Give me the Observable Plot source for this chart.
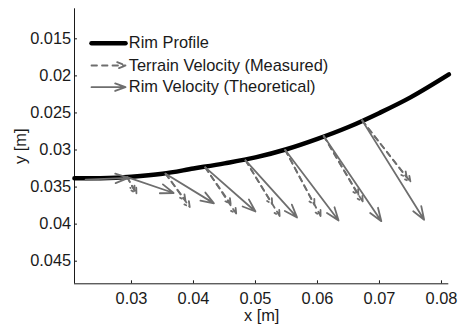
<!DOCTYPE html>
<html><head><meta charset="utf-8">
<script src="https://cdn.jsdelivr.net/npm/d3@7"></script>
<script src="https://cdn.jsdelivr.net/npm/@observablehq/plot@0.6"></script>
<style>html,body{margin:0;padding:0;background:#fff}svg{display:block}</style>
</head><body><div id="chart"></div>
<script>
// Rim profile
const rimX = [0.0208, 0.025, 0.030, 0.035, 0.040, 0.045, 0.050, 0.055, 0.060, 0.065, 0.070, 0.075, 0.0812];
const rimY = [0.0338, 0.0338, 0.0336, 0.0332, 0.0325, 0.0318, 0.0310, 0.0299, 0.0285, 0.0269, 0.0250, 0.0229, 0.0198];

// Arrow tails on the rim
const tailX = [0.0226, 0.0293, 0.0355, 0.0419, 0.0484, 0.0548, 0.0610, 0.0672];
const tailY = [0.0340, 0.03365, 0.0332, 0.03235, 0.0314, 0.0300, 0.0281, 0.0260];

// Rim velocity (theoretical) arrow heads
const theoHeadX = [0.0295, 0.0368, 0.0433, 0.0500, 0.0567, 0.0634, 0.0703, 0.0772];
const theoHeadY = [0.03375, 0.0358, 0.0372, 0.0383, 0.0391, 0.0395, 0.0396, 0.0394];

// Terrain velocity (measured) arrows: tail index and head
const measTail  = [1, 1, 2, 2, 3, 3, 4, 4, 5, 5, 6, 6, 7, 7];
const measHeadX = [0.0308, 0.0305, 0.0387, 0.0394, 0.0460, 0.0469, 0.0527, 0.0539, 0.0595, 0.0605, 0.0666, 0.0673, 0.0750, 0.0744];
const measHeadY = [0.0359, 0.0355, 0.0368, 0.0377, 0.0373, 0.0386, 0.0373, 0.0389, 0.0374, 0.0389, 0.0361, 0.0370, 0.0343, 0.0337];

const xTicks = [0.03, 0.04, 0.05, 0.06, 0.07, 0.08];
const xTickLabels = ["0.03", "0.04", "0.05", "0.06", "0.07", "0.08"];
const yTicks = [0.015, 0.02, 0.025, 0.03, 0.035, 0.04, 0.045];
const yTickLabels = ["0.015", "0.02", "0.025", "0.03", "0.035", "0.04", "0.045"];
const legendLabels = ["Rim Profile", "Terrain Velocity (Measured)", "Rim Velocity (Theoretical)"];
const xLabel = "x [m]";
const yLabel = "y [m]";

const rim = rimX.map((x, i) => ({x, y: rimY[i]}));
const theo = tailX.map((x, i) => ({x1: x, y1: tailY[i], x2: theoHeadX[i], y2: theoHeadY[i]}));
const meas = measTail.map((t, i) => ({x1: tailX[t], y1: tailY[t], x2: measHeadX[i], y2: measHeadY[i]}));

const xFmt = new Map(xTicks.map((t, i) => [t, xTickLabels[i]]));
const yFmt = new Map(yTicks.map((t, i) => [t, yTickLabels[i]]));

const gray = "#6e6e6e";
const ink = "#1a1a1a";
const font = "'Liberation Sans', Arial, Helvetica, sans-serif";
const fs = 16.4;

const lineShape = {draw(ctx, l) { ctx.moveTo(0, 0); ctx.lineTo(0, -l); }};
const arrowShape = (wing, ang) => ({draw(ctx, l) {
  const a = ang * Math.PI / 180;
  ctx.moveTo(0, 0); ctx.lineTo(0, -l);
  ctx.moveTo(-wing * Math.sin(a), -l + wing * Math.cos(a));
  ctx.lineTo(0, -l);
  ctx.lineTo(wing * Math.sin(a), -l + wing * Math.cos(a));
}});

const legX = 17, legText = 54.3, legRows = [34.4, 56.7, 78.4];

const chart = Plot.plot({
  width: 458,
  height: 324,
  marginLeft: 74,
  marginRight: 9.7,
  marginTop: 8.3,
  marginBottom: 40.7,
  style: {fontFamily: font, fontSize: fs + "px", color: ink, background: "#fff"},
  x: {domain: [0.02081, 0.08118]},
  y: {domain: [0.01095, 0.04805], reverse: true},
  marks: [
    Plot.ruleX([0.02081], {stroke: ink, strokeWidth: 1}),
    Plot.ruleY([0.04805], {stroke: ink, strokeWidth: 1}),
    Plot.axisX({ticks: xTicks, tickFormat: d => xFmt.get(d), tickSize: -3, tickPadding: 12, label: null, fontSize: fs, stroke: ink}),
    Plot.axisY({ticks: yTicks, tickFormat: d => yFmt.get(d), tickSize: -3, tickPadding: 6.3, label: null, fontSize: fs, stroke: ink}),
    Plot.text([xLabel], {frameAnchor: "bottom", dy: 31.6, lineAnchor: "middle", textAnchor: "middle", fontSize: fs, fill: ink}),
    Plot.text([yLabel], {frameAnchor: "left", dx: -54, rotate: -90, lineAnchor: "middle", textAnchor: "middle", fontSize: fs, fill: ink}),
    Plot.line(rim, {x: "x", y: "y", stroke: "#000", strokeWidth: 4.5, curve: "catmull-rom"}),
    Plot.arrow(meas, {x1: "x1", y1: "y1", x2: "x2", y2: "y2", stroke: gray, strokeWidth: 1.8, strokeDasharray: "5.5,4.5", headLength: 5, headAngle: 55}),
    Plot.arrow(theo, {x1: "x1", y1: "y1", x2: "x2", y2: "y2", stroke: gray, strokeWidth: 1.8, headLength: 11.5, headAngle: 40}),
    // legend
    Plot.vector([0], {frameAnchor: "top-left", dx: legX, dy: legRows[0], length: 34, rotate: 90, anchor: "start", shape: lineShape, stroke: "#000", strokeWidth: 4.5}),
    Plot.vector([0], {frameAnchor: "top-left", dx: legX, dy: legRows[1], length: 34, rotate: 90, anchor: "start", shape: arrowShape(9, 22), stroke: gray, strokeWidth: 1.8, strokeDasharray: "5.5,5"}),
    Plot.vector([0], {frameAnchor: "top-left", dx: legX, dy: legRows[2], length: 34, rotate: 90, anchor: "start", shape: arrowShape(11, 20), stroke: gray, strokeWidth: 1.8}),
    ...legendLabels.map((t, i) => Plot.text([t], {frameAnchor: "top-left", dx: legText, dy: legRows[i], textAnchor: "start", lineAnchor: "middle", fontSize: fs, fill: ink}))
  ]
});
document.getElementById("chart").appendChild(chart);
</script>
</body></html>
